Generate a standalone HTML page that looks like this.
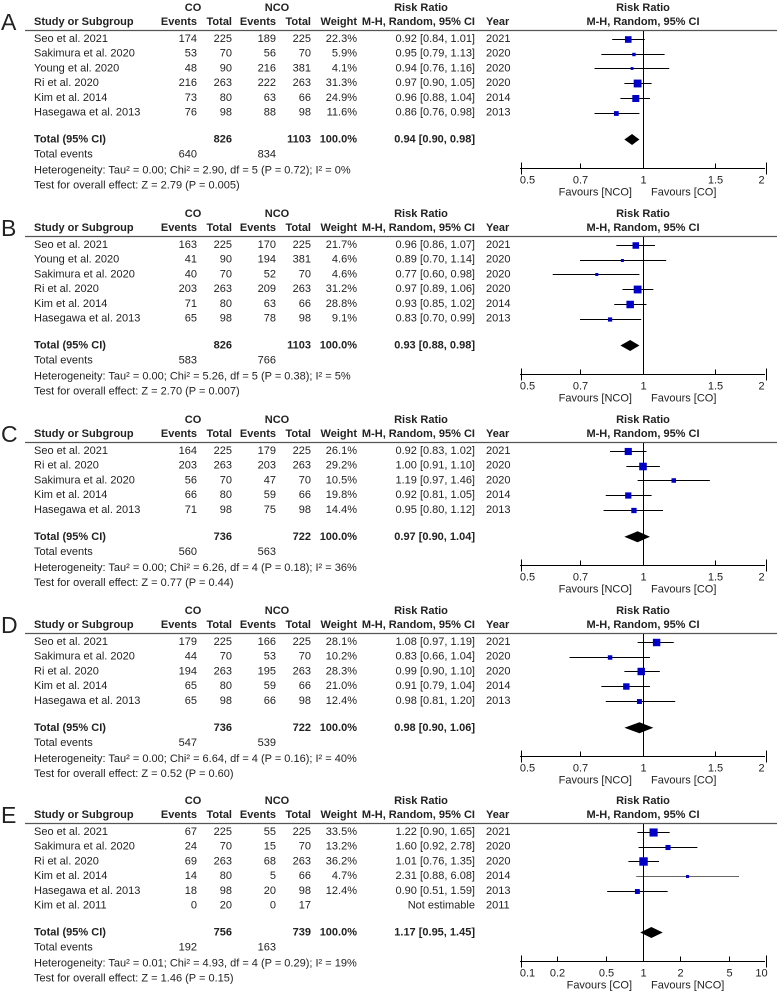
<!DOCTYPE html>
<html><head><meta charset="utf-8"><style>
html,body{margin:0;padding:0;background:#fff;}
svg{display:block;font-family:"Liberation Sans",Arial,sans-serif;font-size:11px;fill:#222;}
.b{font-weight:bold;}
</style></head><body>
<svg id="s" width="777" height="992" xmlns="http://www.w3.org/2000/svg"></svg>
<script>
var S=document.getElementById('s'),NS='http://www.w3.org/2000/svg';
function el(t,a,txt){var e=document.createElementNS(NS,t);for(var k in a)e.setAttribute(k,a[k]);if(txt!==undefined)e.textContent=txt;S.appendChild(e);return e;}
function tx(x,y,s,anchor,bold,size){var a={x:x,y:y,'dominant-baseline':'central','text-anchor':anchor||'start'};if(bold)a['class']='b';if(size)a['font-size']=size;return el('text',a,s);}
var panels=[
{L:'A',off:0,rows:[
['Seo et al. 2021','174','225','189','225','22.3%','0.92 [0.84, 1.01]','2021',0.92,0.84,1.01,22.3],
['Sakimura et al. 2020','53','70','56','70','5.9%','0.95 [0.79, 1.13]','2020',0.95,0.79,1.13,5.9],
['Young et al. 2020','48','90','216','381','4.1%','0.94 [0.76, 1.16]','2020',0.94,0.76,1.16,4.1],
['Ri et al. 2020','216','263','222','263','31.3%','0.97 [0.90, 1.05]','2020',0.97,0.90,1.05,31.3],
['Kim et al. 2014','73','80','63','66','24.9%','0.96 [0.88, 1.04]','2014',0.96,0.88,1.04,24.9],
['Hasegawa et al. 2013','76','98','88','98','11.6%','0.86 [0.76, 0.98]','2013',0.86,0.76,0.98,11.6]],
tot:['826','1103','0.94 [0.90, 0.98]',0.94,0.90,0.98],ev:['640','834'],
het:'Heterogeneity: Tau² = 0.00; Chi² = 2.90, df = 5 (P = 0.72); I² = 0%',test:'Test for overall effect: Z = 2.79 (P = 0.005)'},
{L:'B',off:206,rows:[
['Seo et al. 2021','163','225','170','225','21.7%','0.96 [0.86, 1.07]','2021',0.96,0.86,1.07,21.7],
['Young et al. 2020','41','90','194','381','4.6%','0.89 [0.70, 1.14]','2020',0.89,0.70,1.14,4.6],
['Sakimura et al. 2020','40','70','52','70','4.6%','0.77 [0.60, 0.98]','2020',0.77,0.60,0.98,4.6],
['Ri et al. 2020','203','263','209','263','31.2%','0.97 [0.89, 1.06]','2020',0.97,0.89,1.06,31.2],
['Kim et al. 2014','71','80','63','66','28.8%','0.93 [0.85, 1.02]','2014',0.93,0.85,1.02,28.8],
['Hasegawa et al. 2013','65','98','78','98','9.1%','0.83 [0.70, 0.99]','2013',0.83,0.70,0.99,9.1]],
tot:['826','1103','0.93 [0.88, 0.98]',0.93,0.88,0.98],ev:['583','766'],
het:'Heterogeneity: Tau² = 0.00; Chi² = 5.26, df = 5 (P = 0.38); I² = 5%',test:'Test for overall effect: Z = 2.70 (P = 0.007)'},
{L:'C',off:412,rows:[
['Seo et al. 2021','164','225','179','225','26.1%','0.92 [0.83, 1.02]','2021',0.92,0.83,1.02,26.1],
['Ri et al. 2020','203','263','203','263','29.2%','1.00 [0.91, 1.10]','2020',1.00,0.91,1.10,29.2],
['Sakimura et al. 2020','56','70','47','70','10.5%','1.19 [0.97, 1.46]','2020',1.19,0.97,1.46,10.5],
['Kim et al. 2014','66','80','59','66','19.8%','0.92 [0.81, 1.05]','2014',0.92,0.81,1.05,19.8],
['Hasegawa et al. 2013','71','98','75','98','14.4%','0.95 [0.80, 1.12]','2013',0.95,0.80,1.12,14.4]],
tot:['736','722','0.97 [0.90, 1.04]',0.97,0.90,1.04],ev:['560','563'],
het:'Heterogeneity: Tau² = 0.00; Chi² = 6.26, df = 4 (P = 0.18); I² = 36%',test:'Test for overall effect: Z = 0.77 (P = 0.44)'},
{L:'D',off:603,rows:[
['Seo et al. 2021','179','225','166','225','28.1%','1.08 [0.97, 1.19]','2021',1.08,0.97,1.19,28.1],
['Sakimura et al. 2020','44','70','53','70','10.2%','0.83 [0.66, 1.04]','2020',0.83,0.66,1.04,10.2],
['Ri et al. 2020','194','263','195','263','28.3%','0.99 [0.90, 1.10]','2020',0.99,0.90,1.10,28.3],
['Kim et al. 2014','65','80','59','66','21.0%','0.91 [0.79, 1.04]','2014',0.91,0.79,1.04,21.0],
['Hasegawa et al. 2013','65','98','66','98','12.4%','0.98 [0.81, 1.20]','2013',0.98,0.81,1.20,12.4]],
tot:['736','722','0.98 [0.90, 1.06]',0.98,0.90,1.06],ev:['547','539'],
het:'Heterogeneity: Tau² = 0.00; Chi² = 6.64, df = 4 (P = 0.16); I² = 40%',test:'Test for overall effect: Z = 0.52 (P = 0.60)'},
{L:'E',off:793,E:1,rows:[
['Seo et al. 2021','67','225','55','225','33.5%','1.22 [0.90, 1.65]','2021',1.22,0.90,1.65,33.5],
['Sakimura et al. 2020','24','70','15','70','13.2%','1.60 [0.92, 2.78]','2020',1.60,0.92,2.78,13.2],
['Ri et al. 2020','69','263','68','263','36.2%','1.01 [0.76, 1.35]','2020',1.01,0.76,1.35,36.2],
['Kim et al. 2014','14','80','5','66','4.7%','2.31 [0.88, 6.08]','2014',2.31,0.88,6.08,4.7],
['Hasegawa et al. 2013','18','98','20','98','12.4%','0.90 [0.51, 1.59]','2013',0.90,0.51,1.59,12.4],
['Kim et al. 2011','0','20','0','17','','Not estimable','2011',0,0,0,0]],
tot:['756','739','1.17 [0.95, 1.45]',1.17,0.95,1.45],ev:['192','163'],
het:'Heterogeneity: Tau² = 0.01; Chi² = 4.93, df = 4 (P = 0.29); I² = 19%',test:'Test for overall effect: Z = 1.46 (P = 0.15)'}
];
panels.forEach(function(p){
 var o=p.off,n=p.rows.length;
 var X=p.E?function(v){return 643+Math.log10(v)*122.5;}:function(v){return 643+Math.log(v)/Math.LN2*122.5;};
 tx(1,o+22,p.L,'start',false,'23px');
 tx(193,o+8,'CO','middle',true);tx(277,o+8,'NCO','middle',true);tx(421,o+8,'Risk Ratio','middle',true);tx(643,o+8,'Risk Ratio','middle',true);
 tx(34,o+22,'Study or Subgroup','start',true);tx(197,o+22,'Events','end',true);tx(232,o+22,'Total','end',true);
 tx(276,o+22,'Events','end',true);tx(311,o+22,'Total','end',true);tx(357,o+22,'Weight','end',true);
 tx(475,o+22,'M-H, Random, 95% CI','end',true);tx(486,o+22,'Year','start',true);tx(643,o+22,'M-H, Random, 95% CI','middle',true);
 el('line',{x1:25,y1:o+30.5,x2:777,y2:o+30.5,stroke:'#555','stroke-width':1.2});
 p.rows.forEach(function(r,i){
  var y=o+39+i*14.7;
  tx(34,y,r[0]);tx(197,y,r[1],'end');tx(232,y,r[2],'end');tx(276,y,r[3],'end');tx(311,y,r[4],'end');
  tx(357,y,r[5],'end');tx(475,y,r[6],'end');tx(486,y,r[7]);
  if(r[8]){var yy=Math.round(y)+0.5;
   el('line',{x1:X(r[9]),y1:yy,x2:X(r[10]),y2:yy,stroke:(p.E&&i==3)?'#666':'#000','stroke-width':1});
   var s=Math.max(2.5,Math.sqrt(r[11])*1.4);
   el('rect',{x:X(r[8])-s/2,y:yy-s/2,width:s,height:s,fill:'#0000c8'});}
 });
 var ly=o+39+(n-1)*14.7,ty=ly+27;
 tx(34,ty,'Total (95% CI)','start',true);tx(232,ty,p.tot[0],'end',true);tx(311,ty,p.tot[1],'end',true);
 tx(357,ty,'100.0%','end',true);tx(475,ty,p.tot[2],'end',true);
 var c=X(p.tot[3]);
 el('polygon',{points:X(p.tot[4])+','+ty+' '+c+','+(ty-5.5)+' '+X(p.tot[5])+','+ty+' '+c+','+(ty+5.5),fill:'#000'});
 tx(34,ty+15,'Total events');tx(197,ty+15,p.ev[0],'end');tx(276,ty+15,p.ev[1],'end');
 tx(34,ty+31,p.het);tx(34,ty+46,p.test);
 var ay=Math.round(ty+28)+0.5;
 el('line',{x1:643.5,y1:o+31,x2:643.5,y2:ay,stroke:'#000','stroke-width':1});
 el('line',{x1:520,y1:ay,x2:765,y2:ay,stroke:'#000','stroke-width':1});
 var ticks=p.E?[[0.1,'0.1'],[0.2,'0.2'],[0.5,'0.5'],[1,'1'],[2,'2'],[5,'5'],[10,'10']]:[[0.5,'0.5'],[0.7,'0.7'],[1,'1'],[1.5,'1.5'],[2,'2']];
 ticks.forEach(function(t,k){var x=Math.round(X(t[0]))+0.5;var end=(k==0||k==ticks.length-1);
  el('line',{x1:x,y1:ay-(end?6:5),x2:x,y2:ay+(end?6:0),stroke:'#000','stroke-width':1});
  var lx=x; if(k==0)lx=x+6; if(k==ticks.length-1)lx=x-5;
  tx(lx,ay+12,t[1],'middle');});
 tx(632,ay+24,p.E?'Favours [CO]':'Favours [NCO]','end');tx(651,ay+24,p.E?'Favours [NCO]':'Favours [CO]','start');
});
</script>
</body></html>
